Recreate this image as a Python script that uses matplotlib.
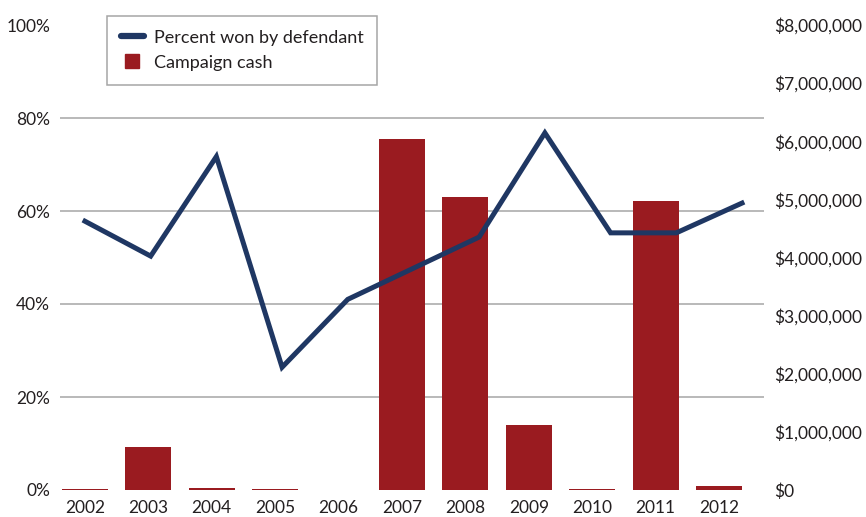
import numpy as np
import matplotlib
matplotlib.use("Agg")
import matplotlib.pyplot as plt
from matplotlib.ticker import FuncFormatter
from matplotlib.lines import Line2D

plt.rcParams['font.family'] = ['Lato', 'DejaVu Sans']

years = ['2002', '2003', '2004', '2005', '2006', '2007', '2008', '2009', '2010', '2011', '2012']
pct_won = [57.8, 50.3, 71.7, 26.4, 41.0, 47.7, 54.4, 76.8, 55.3, 55.3, 61.7]
cash = [15000, 740000, 40000, 25000, 0, 6040000, 5040000, 1120000, 20000, 4970000, 70000]

pct_ticks = [0, 20, 40, 60, 80, 100]
cash_ticks = [0, 1e6, 2e6, 3e6, 4e6, 5e6, 6e6, 7e6, 8e6]

navy = '#1f3763'
red = '#9a1b20'
grid_c = '#a6a6a6'
txt = '#231f20'

W, H = 866, 517
fig = plt.figure(figsize=(W / 100, H / 100), dpi=100)
rect = [60 / W, 27 / H, 704 / W, 465 / H]

# bars, dollar axis on the right
ax = fig.add_axes(rect)
x = np.arange(len(years))
ax.bar(x, cash, width=0.726, color=red, zorder=3)
ax.set_xlim(-0.394, 10.71)
ax.set_ylim(0, 8e6)
ax.set_xticks(x)
ax.set_xticklabels(years)
ax.yaxis.tick_right()
ax.set_yticks(cash_ticks)
ax.yaxis.set_major_formatter(FuncFormatter(lambda v, p: '${:,.0f}'.format(v)))
ax.set_yticks(np.linspace(0, 8e6, len(pct_ticks)), minor=True)
ax.grid(which='minor', axis='y', color=grid_c, linewidth=1.1, zorder=0)
ax.grid(which='major', visible=False)
ax.tick_params(axis='both', which='both', length=0, labelsize=12.5, colors=txt)
ax.tick_params(axis='y', pad=7)
ax.tick_params(axis='x', pad=7)
for s in ax.spines.values():
    s.set_visible(False)

# line, percent axis on the left
ax2 = fig.add_axes(rect)
ax2.patch.set_visible(False)
ax2.plot(x, pct_won, color=navy, linewidth=3.6, solid_joinstyle='miter', zorder=4)
ax2.set_xlim(-0.38, 10.335)
ax2.set_ylim(0, 100)
ax2.set_xticks([])
ax2.set_yticks(pct_ticks)
ax2.set_yticklabels([f'{t}%' for t in pct_ticks])
ax2.tick_params(axis='y', length=0, labelsize=12.5, colors=txt, pad=7)
for s in ax2.spines.values():
    s.set_visible(False)

handles = [Line2D([0], [0], color=navy, linewidth=4.5, solid_capstyle='round'),
           Line2D([0], [0], color=red, marker='s', linestyle='none', markersize=10.5)]
leg = ax2.legend(handles, ['Percent won by defendant', 'Campaign cash'],
                 loc='upper left', bbox_to_anchor=(107 / W, 1 - 16 / H),
                 bbox_transform=fig.transFigure, borderaxespad=0,
                 fancybox=False, framealpha=1, edgecolor=grid_c,
                 fontsize=13, handlelength=1.3, handleheight=0.9,
                 handletextpad=0.55, labelspacing=0.45,
                 borderpad=0.75)
leg.get_frame().set_linewidth(1.1)
for t in leg.get_texts():
    t.set_color(txt)

fig.savefig('out.png', dpi=100)
